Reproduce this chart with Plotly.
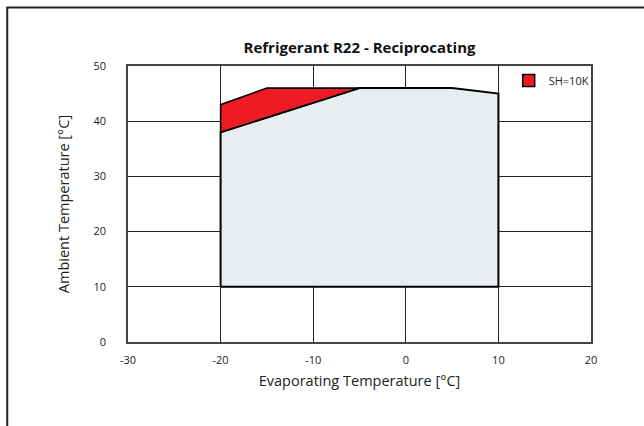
import plotly.graph_objects as go

# Envelope data (Evaporating temp, Ambient temp)
env_x = [-20, -20, -5, 5, 10, 10, -20]
env_y = [10, 38, 46, 46, 45, 10, 10]
sh_x = [-20, -20, -15, -5, -20]
sh_y = [38, 43, 46, 46, 38]
sh_name = "SH=10K"
x_ticks = [-30, -20, -10, 0, 10, 20]
x_labels = ["-30", "-20", "-10", "0", "10", "20"]
y_ticks = [0, 10, 20, 30, 40, 50]
y_labels = ["0", "10", "20", "30", "40", "50"]

FONT = "Open Sans"
RED = "#ed1c24"
fig = go.Figure()
fig.add_trace(go.Scatter(x=env_x, y=env_y, mode="lines", fill="toself",
                         fillcolor="#e8edf0", line=dict(color="black", width=2),
                         showlegend=False, hoverinfo="skip"))
fig.add_trace(go.Scatter(x=sh_x, y=sh_y, mode="lines", fill="toself",
                         fillcolor=RED, line=dict(color="black", width=1.6),
                         name=sh_name, showlegend=False, legendgroup="sh"))
# legend entry (square swatch)
fig.add_trace(go.Scatter(x=[None], y=[None], mode="markers", name=sh_name, legendgroup="sh",
                         marker=dict(symbol="square", size=12, color=RED,
                                     line=dict(color="black", width=1.5))))

W, H = 644, 426
l, r, t, b = 127.5, 52.5, 66, 84
pw, ph = W - l - r, H - t - b

def px(xp):
    return (xp - l) / pw

def py(yp):
    return (H - b - yp) / ph

fig.update_layout(
    width=W, height=H,
    margin=dict(l=l, r=r, t=t, b=b, pad=0),
    paper_bgcolor="white", plot_bgcolor="white",
    font=dict(family=FONT, color="#222", size=11),
    title=dict(text="<b>Refrigerant R22 - Reciprocating</b>", x=0.5, xref="paper",
               y=1 - 48 / H, yref="container", yanchor="middle", xanchor="center",
               font=dict(size=15, color="#111", family=FONT)),
    xaxis=dict(range=[-30, 20], tickvals=x_ticks, ticktext=x_labels, ticks="", showgrid=True,
               gridcolor="#222", gridwidth=1, zeroline=False,
               showline=True, linecolor="#444", linewidth=1.5, mirror=True,
               ticklabelstandoff=7,
               title=dict(text="Evaporating Temperature [°C]", font=dict(size=14.5, color="#222"), standoff=10),
               tickfont=dict(size=11, color="#222"), fixedrange=True),
    yaxis=dict(range=[0, 50], tickvals=y_ticks, ticktext=y_labels, ticks="", showgrid=True,
               gridcolor="#222", gridwidth=1, zeroline=False,
               showline=True, linecolor="#444", linewidth=1.5, mirror=True,
               ticklabelstandoff=18,
               title=dict(text="Ambient Temperature [°C]", font=dict(size=14.5, color="#222"), standoff=20),
               tickfont=dict(size=11, color="#222"), fixedrange=True),
    legend=dict(x=px(509), y=py(66), xanchor="left", yanchor="top",
                bgcolor="rgba(0,0,0,0)", font=dict(size=11, color="#222"),
                itemwidth=30, tracegroupgap=0),
    shapes=[dict(type="rect", xref="paper", yref="paper", layer="above",
                 x0=px(6.5), x1=px(720), y0=py(520), y1=py(7.5),
                 fillcolor="rgba(0,0,0,0)", line=dict(color="#222", width=2))],
)
fig.write_html("out.html", config={"displayModeBar": False},
               post_script="document.body.style.margin='0';document.body.style.overflow='hidden';")
